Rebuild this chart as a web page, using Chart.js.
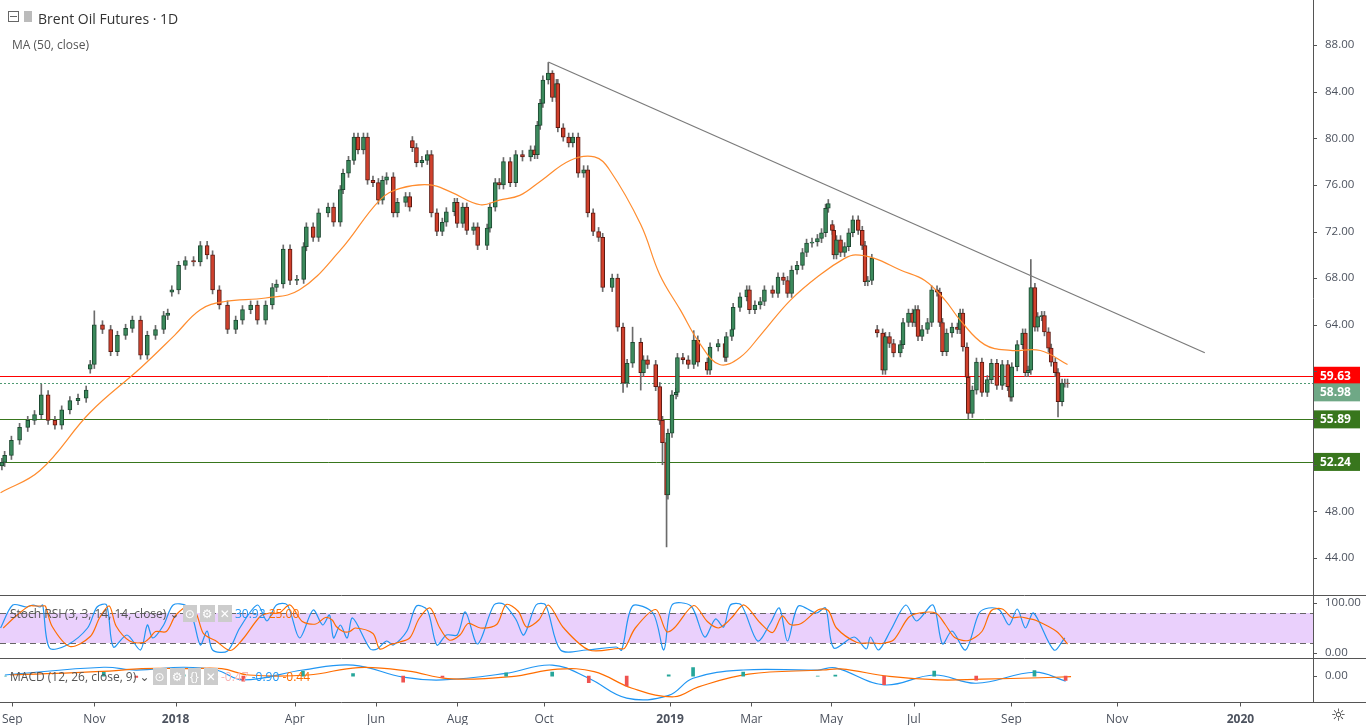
<!DOCTYPE html>
<html><head><meta charset="utf-8">
<script src="https://cdn.jsdelivr.net/npm/chart.js@4.4.1/dist/chart.umd.min.js"></script>
<style>
html,body{margin:0;padding:0;background:#fff;width:1366px;height:725px;overflow:hidden;font-family:"Open Sans","DejaVu Sans",sans-serif}
.pane{position:absolute;left:0;width:1366px}
.lbl{position:absolute;white-space:nowrap;color:#4c525e}
</style></head><body>
<div class="pane" style="top:0;height:596px"><canvas id="c1"></canvas></div>
<div class="pane" style="top:596px;height:63px"><canvas id="c2"></canvas></div>
<div class="pane" style="top:659px;height:66px"><canvas id="c3"></canvas></div>
<div class="lbl" style="left:8px;top:11px;width:11px;height:11px;border:1px solid #666;box-sizing:border-box"></div>
<div class="lbl" style="left:10px;top:16px;width:7px;height:1px;background:#666"></div>
<div class="lbl" style="left:24px;top:11px;width:8px;height:11px;background:#bbb"></div>
<div class="lbl" style="left:38px;top:9px;font-size:14px;color:#333">Brent Oil Futures · 1D</div>
<div class="lbl" style="left:12px;top:36px;font-size:12px;color:#555">MA (50, close)</div>
<div class="lbl" style="left:10px;top:605px;font-size:12px;color:#555">Stoch RSI (3, 3, 14, 14, close) ⌄ <span style="background:#ccc;color:#fff;padding:0 2px">⊙</span> <span style="background:#ccc;color:#fff;padding:0 2px">⚙</span> <span style="background:#ccc;color:#fff;padding:0 2px">✕</span> <span style="color:#2196f3">30.92</span> <span style="color:#ff6d00">25.00</span></div>
<div class="lbl" style="left:10px;top:668px;font-size:12px;color:#555">MACD (12, 26, close, 9) ⌄ <span style="background:#ccc;color:#fff;padding:0 2px">⊙</span> <span style="background:#ccc;color:#fff;padding:0 2px">⚙</span> <span style="background:#ccc;color:#fff;padding:0 2px">{}</span> <span style="background:#ccc;color:#fff;padding:0 2px">✕</span> <span style="color:#f8b4b4">-0.47</span> <span style="color:#2196f3">-0.90</span> <span style="color:#ff6d00">-0.44</span></div>
<div class="lbl" style="left:1331px;top:703px;font-size:17px;color:#333">☼</div>
<script>
// ---- data ----
const candleDay=[-3,-1,4,10,16,21,26,31,36,41,47,53,59,62,65,71,77,82,88,93,99,104,110,116,119,122,127,132,138,143,148,152,157,163,169,174,180,185,191,196,199,204,209,214,219,221,226,230,237,241,246,248,252,256,259,263,266,270,274,277,280,285,288,294,297,299,302,306,310,313,317,321,324,330,332,336,339,344,347,354,356,360,363,366,371,375,380,386,389,391,393,395,399,402,405,406,410,414,417,421,425,428,432,436,439,446,450,454,457,461,467,469,472,478,481,483,486,487,490,493,494,498,502,506,509,516,518,524,529,530,534,535,540,545,547,551,555,558,564,568,572,575,578,582,586,589,593,597,600,603,605,608,609,611,614,617,620,623,627,630,632,634,637,641,645,647,650,653,658,660,664,667,669,671,674,678,681,685,687,689,692,696,700,702,704,707,708,711,714,718,722,725,729,733,737,739,740,744,748,750,752,754,757,759,762,764,767,769,772,774,777,779,781];
const candleClose=[52.2,52.8,54.1,55.2,55.8,56.3,58.0,55.8,55.4,56.7,57.5,57.7,58.4,60.6,64.0,63.6,61.7,63.1,63.7,64.4,61.4,63.1,63.6,64.8,65.0,67.0,69.1,69.5,69.4,70.8,70.0,67.0,65.7,63.6,64.4,65.3,65.7,64.4,65.7,67.2,67.5,70.5,67.8,67.9,70.7,72.4,71.5,73.6,74.1,72.8,75.6,77.0,78.1,80.1,79.0,80.1,76.4,76.2,74.7,76.4,76.7,73.6,74.5,75.0,74.1,79.2,77.9,78.1,78.6,73.6,72.0,72.8,73.7,74.5,72.7,74.1,72.1,72.4,70.8,72.3,74.1,76.2,76.0,78.0,76.2,78.6,78.4,79.0,78.6,81.1,83.0,85.0,85.6,83.5,84.7,80.9,80.1,79.6,80.1,77.0,77.3,73.6,72.0,71.5,67.2,68.0,63.8,59.0,60.7,62.5,59.9,61.0,60.6,58.7,55.8,53.9,49.4,54.7,58.0,58.2,61.2,61.0,60.6,62.7,60.8,60.1,62.1,62.4,61.2,63.0,63.6,65.5,66.4,67.0,65.3,65.7,66.0,67.0,66.7,68.1,67.8,66.7,68.7,69.1,70.2,71.0,71.1,71.4,71.9,74.0,74.4,72.1,70.0,71.3,70.2,70.7,71.9,73.0,72.1,70.8,67.7,67.8,69.7,63.3,60.1,63.0,62.4,61.6,62.3,64.2,65.0,64.2,65.3,63.0,63.6,64.2,67.0,66.8,64.2,61.7,63.3,63.8,63.6,65.0,62.1,59.5,56.4,58.4,60.8,58.2,59.3,60.7,58.8,60.6,58.7,57.8,60.4,62.3,63.3,59.9,60.1,67.2,63.8,64.7,64.8,63.4,62.0,60.8,59.9,57.4,59.0,59.0,58.98];
const gapOpen={62:60.2,122:66.8,299:79.8,608:72.6,641:63.6};
const wickHigh={26:58.9,65:65.2,399:86.5,402:85.8,461:63.8,506:63.5,754:69.6};
const wickLow={486:44.95,483:52.0,467:58.4,454:58.2,708:55.9,774:56.1};
const maDay=[-4,25,62,99,124,143,161,191,216,246,275,290,312,327,349,363,378,393,415,433,444,467,481,496,511,525,540,555,577,599,617,625,639,658,676,691,702,720,739,761,781];
const maValue=[49.6,51.5,56.5,60.3,63.1,65.3,66.0,66.3,67.0,70.4,74.7,75.7,76.0,75.4,74.3,74.7,75.1,76.3,78.1,78.4,77.3,72.6,68.3,65.3,62.3,60.6,61.2,63.1,66.1,68.3,69.7,70.0,69.7,68.7,67.8,66.1,64.4,62.3,61.8,61.8,60.6];
const trendDay=[399,882], trendValue=[86.54,61.6];
const levels=[{v:59.63,c:'#ff0000',box:'#ff0000'},{v:58.98,c:'#4f9a72',box:'#6fa886',dash:[2,2]},{v:55.89,c:'#38761d',box:'#38761d'},{v:52.24,c:'#38761d',box:'#38761d'}];
const priceTicks=[44,48,52,56,60,64,68,72,76,80,84,88];
const stochDay=[-4,5,15,20,25,27,32,45,60,67,74,79,89,99,104,108,116,123,133,138,143,148,152,163,172,185,192,199,207,216,226,233,238,241,246,251,255,268,273,280,285,295,302,310,317,324,332,338,347,359,366,375,381,390,397,408,427,449,453,461,476,484,490,504,514,522,528,533,541,553,562,569,575,583,596,603,609,624,633,636,642,651,662,670,682,689,696,706,716,723,731,738,744,750,756,771,779];
const stochK=[50,96,92,96,92,96,10,16,50,92,96,12,36,6,56,30,56,96,94,64,16,44,6,4,50,96,64,96,96,30,86,56,76,30,56,30,70,8,8,24,16,44,94,86,16,36,36,82,18,96,98,68,36,96,96,6,6,12,6,94,80,6,96,94,32,68,52,96,96,24,58,90,24,94,80,90,10,32,8,32,6,46,96,64,96,18,44,6,80,90,86,56,88,50,80,6,30];
const macdDay=[-4,69,93,128,152,172,216,253,290,319,366,400,427,455,486,504,541,596,609,645,682,713,756,779];
const macdValue=[0.2,1.6,1.1,1.6,1.1,-0.7,1.1,2.0,-0.2,-0.7,0.5,2.0,-0.4,-4.0,-3.5,-0.4,1.1,1.1,1.5,-1.6,0.2,-1.3,0.7,-0.9];
const xTickPos=[1.5,62,122,210,270,330,394,487,547,606,667,739,817,908];
const xTickText=['Sep','Nov','2018','Apr','Jun','Aug','Oct','2019','Mar','May','Jul','Sep','Nov','2020'];
// ---- build ----
const XMIN=-4.4, XMAX=961.6, AXW=53;
const candles=candleDay.map((d,i)=>{
  const c=candleClose[i];
  const o=(gapOpen[d]!==undefined)?gapOpen[d]:(i>0?candleClose[i-1]:c-0.3);
  const h=wickHigh[d]!==undefined?wickHigh[d]:Math.max(o,c)+0.35;
  const l=wickLow[d]!==undefined?wickLow[d]:Math.min(o,c)-0.35;
  return {d,o,h,l,c};
});
const upFill='#3b8a5c', upLine='#1e4a32', dnFill='#d0402c', dnLine='#5c1a12';
function baseX(show){return {type:'linear',min:XMIN,max:XMAX,offset:false,display:show,grid:{display:false,drawTicks:true},border:{display:false},
  afterBuildTicks:s=>{s.ticks=xTickPos.map(v=>({value:v}));},
  afterFit:s=>{s.height=show?23:0;},
  ticks:{autoSkip:false,maxRotation:0,padding:2,color:'#4c525e',font:ctx=>({family:'Open Sans',size:12,weight:(xTickText[ctx.index]||'').length===4?'bold':'normal'}),callback:(v,i)=>xTickText[i]}};}
function yAxis(min,max,ticks,fmt){return {position:'right',min,max,grid:{display:false},border:{display:true,color:'#555'},
  afterFit:s=>{s.width=AXW;s.paddingTop=0;s.paddingBottom=0;},afterBuildTicks:s=>{s.ticks=ticks.map(v=>({value:v}));},
  ticks:{color:'#4c525e',font:{family:'Open Sans',size:11.5},padding:4,callback:fmt}};}
const tickMark={id:'tickMark',afterDraw(ch){const y=ch.scales.y,ctx=ch.ctx;ctx.save();ctx.strokeStyle='#555';ctx.lineWidth=1;
  y.ticks.forEach(t=>{const p=Math.round(y.getPixelForValue(t.value))+0.5;ctx.beginPath();ctx.moveTo(ch.chartArea.right,p);ctx.lineTo(ch.chartArea.right+4,p);ctx.stroke();});
  if(ch.options.plugins.tickMark&&ch.options.plugins.tickMark.bottom){const x=ch.scales.x;const b=ch.chartArea.bottom+0.5;
    ctx.beginPath();ctx.moveTo(0,b);ctx.lineTo(1366,b);ctx.stroke();
    x.ticks.forEach(t=>{const p=Math.round(x.getPixelForValue(t.value))+0.5;ctx.beginPath();ctx.moveTo(p,b);ctx.lineTo(p,b+4);ctx.stroke();});}
  else{ctx.beginPath();ctx.moveTo(0,ch.height-0.5);ctx.lineTo(1366,ch.height-0.5);ctx.stroke();}ctx.restore();}};
const levelPlugin={id:'levels',beforeDatasetsDraw(ch){const y=ch.scales.y,ctx=ch.ctx,a=ch.chartArea;ctx.save();
  levels.forEach(L=>{const p=Math.round(y.getPixelForValue(L.v))+0.5;ctx.strokeStyle=L.c;ctx.lineWidth=1;ctx.setLineDash(L.dash||[]);ctx.beginPath();ctx.moveTo(a.left,p);ctx.lineTo(a.right,p);ctx.stroke();});
  ctx.restore();},
  afterDraw(ch){const y=ch.scales.y,ctx=ch.ctx,a=ch.chartArea;ctx.save();
  levels.forEach((L,i)=>{let p=y.getPixelForValue(L.v);if(i===1)p+=9;ctx.fillStyle=L.box;ctx.fillRect(a.right+1,p-9,46,18);
    ctx.fillStyle='#fff';ctx.font='bold 12px "Open Sans"';ctx.textBaseline='middle';ctx.fillText(L.v.toFixed(2),a.right+7,p+0.5);});
  ctx.restore();}};
const common={responsive:true,maintainAspectRatio:false,animation:false,layout:{padding:{top:0,bottom:0,left:0,right:0}}};
const topPane=new Chart(document.getElementById('c1'),{
  data:{datasets:[
    {type:'bar',order:3,grouped:false,barThickness:1,data:candles.map(k=>({x:k.d,y:[k.l,k.h]})),backgroundColor:'#6b6b6b'},
    {type:'bar',order:2,grouped:false,barThickness:4,data:candles.map(k=>({x:k.d,y:[k.o,k.c]})),
      backgroundColor:c=>{const r=c.raw;return r&&r.y[1]>=r.y[0]?upFill:dnFill;},borderColor:c=>{const r=c.raw;return r&&r.y[1]>=r.y[0]?upLine:dnLine;},borderWidth:1,borderSkipped:false},
    {type:'line',order:1,data:maDay.map((d,i)=>({x:d,y:maValue[i]})),borderColor:'#ff8c2e',borderWidth:1.2,pointRadius:0,tension:0.4},
    {type:'line',order:0,data:trendDay.map((d,i)=>({x:d,y:trendValue[i]})),borderColor:'#7a7a7a',borderWidth:1.2,pointRadius:0}
  ]},
  options:{...common,plugins:{legend:{display:false},tooltip:{enabled:false}},
    scales:{x:baseX(false),y:yAxis(40.74,91.86,priceTicks,v=>v.toFixed(2))}},
  plugins:[levelPlugin,tickMark]});
const stochD=stochK.map((v,i)=>{const a=stochK.slice(Math.max(0,i-1),i+1);return a.reduce((s,x)=>s+x,0)/a.length;});
const bandPlugin={id:'band',beforeDatasetsDraw(ch){const y=ch.scales.y,ctx=ch.ctx,a=ch.chartArea;const t=y.getPixelForValue(80),b=y.getPixelForValue(20);
  ctx.save();ctx.fillStyle='#ead0fc';ctx.fillRect(a.left,t,a.width,b-t);ctx.strokeStyle='#666';ctx.setLineDash([6,4]);
  [t,b].forEach(p=>{ctx.beginPath();ctx.moveTo(a.left,Math.round(p)+0.5);ctx.lineTo(a.right,Math.round(p)+0.5);ctx.stroke();});ctx.restore();}};
new Chart(document.getElementById('c2'),{
  data:{datasets:[
    {type:'line',data:stochDay.map((d,i)=>({x:d+2,y:stochD[i]})),borderColor:'#ff6d00',borderWidth:1.2,pointRadius:0,tension:0.3},
    {type:'line',data:stochDay.map((d,i)=>({x:d,y:stochK[i]})),borderColor:'#2196f3',borderWidth:1.2,pointRadius:0,tension:0.3}
  ]},
  options:{...common,plugins:{legend:{display:false},tooltip:{enabled:false}},
    scales:{x:baseX(false),y:yAxis(-12,114,[0,100],v=>v.toFixed(2))}},
  plugins:[bandPlugin,tickMark]});
const macdSignal=macdValue.map((v,i)=>{const a=macdValue.slice(Math.max(0,i-1),i+1);return a.reduce((s,x)=>s+x,0)/a.length;});
const hist=macdValue.map((v,i)=>v-macdSignal[i]);
new Chart(document.getElementById('c3'),{
  data:{datasets:[
    {type:'bar',grouped:false,barThickness:3,data:macdDay.map((d,i)=>({x:d,y:hist[i]})),backgroundColor:macdDay.map((d,i)=>hist[i]>=0?'#26a69a':'#ef5350')},
    {type:'line',data:macdDay.map((d,i)=>({x:d+4,y:macdSignal[i]})),borderColor:'#ff6d00',borderWidth:1.2,pointRadius:0,tension:0.4},
    {type:'line',data:macdDay.map((d,i)=>({x:d,y:macdValue[i]})),borderColor:'#2196f3',borderWidth:1.2,pointRadius:0,tension:0.4}
  ]},
  options:{...common,plugins:{legend:{display:false},tooltip:{enabled:false},tickMark:{bottom:true}},
    scales:{x:baseX(true),y:yAxis(-4.7,3.1,[0],v=>v.toFixed(2))}},
  plugins:[tickMark]});
</script></body></html>
